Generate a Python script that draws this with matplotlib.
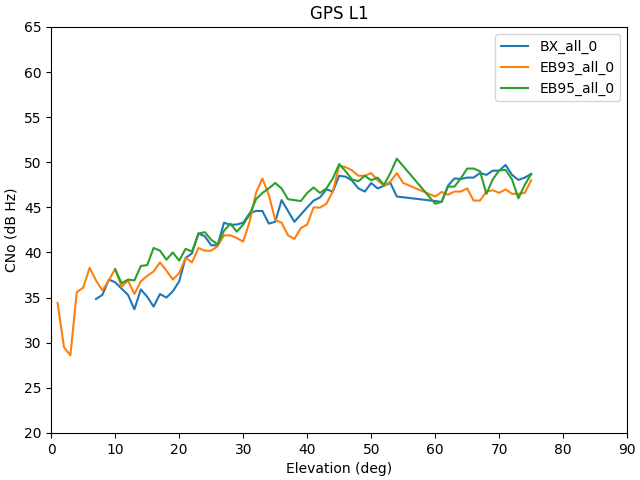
import matplotlib
matplotlib.use("Agg")
import matplotlib.pyplot as plt

# elevation (deg) and CNo (dB Hz) per receiver
bx_elev = list(range(7, 55)) + list(range(60, 76))
bx_cno = [34.85, 35.3, 37.0, 36.7, 36.0, 35.3, 33.7, 35.9, 35.1, 34.0,
          35.4, 35.0, 35.7, 36.8, 39.4, 39.9, 42.1, 41.8, 40.8, 40.8,
          43.3, 43.05, 43.1, 43.3, 44.35, 44.6, 44.6, 43.2, 43.4, 45.8,
          44.6, 43.4, 44.2, 45.0, 45.75, 46.1, 47.0, 46.75, 48.5, 48.4,
          47.97, 47.1, 46.75, 47.7, 47.1, 47.4, 47.7, 46.2,
          45.7, 45.6, 47.4, 48.2, 48.15, 48.3, 48.3, 48.8, 48.6, 49.07,
          49.07, 49.7, 48.6, 48.04, 48.3, 48.7]

eb93_elev = list(range(1, 56)) + list(range(60, 76))
eb93_cno = [34.4, 29.5, 28.6, 35.6, 36.1, 38.3, 36.9, 35.8, 36.9, 38.2,
            36.2, 36.9, 35.4, 36.8, 37.4, 37.9, 38.9, 38.0, 37.0, 37.7,
            39.4, 38.9, 40.5, 40.2, 40.2, 40.7, 41.9, 41.9, 41.6, 41.2,
            43.4, 46.6, 48.2, 46.4, 43.6, 43.3, 41.9, 41.5, 42.7, 43.1,
            45.0, 44.97, 45.4, 46.75, 49.6, 49.45, 49.1, 48.5, 48.5, 48.8,
            48.0, 47.4, 47.85, 48.8, 47.7,
            46.2, 46.7, 46.4, 46.75, 46.75, 47.1, 45.75, 45.75, 46.75, 46.9,
            46.6, 47.0, 46.5, 46.5, 46.6, 48.0]

eb95_elev = list(range(10, 55)) + list(range(60, 76))
eb95_cno = [38.1, 36.6, 37.0, 36.9, 38.5, 38.6, 40.5, 40.2, 39.2, 40.0,
            39.1, 40.4, 40.1, 42.1, 42.25, 41.4, 40.9, 42.4, 43.2, 42.3,
            43.1, 44.2, 45.9, 46.6, 47.1, 47.7, 47.1, 45.9, 45.8, 45.7,
            46.6, 47.2, 46.6, 47.1, 48.2, 49.8, 49.0, 48.1, 47.9, 48.5,
            48.0, 48.3, 47.5, 48.8, 50.4,
            45.4, 45.6, 47.3, 47.3, 48.2, 49.3, 49.3, 49.0, 46.5, 48.1,
            49.1, 49.15, 48.1, 46.0, 47.5, 48.7]

fig, ax = plt.subplots(figsize=(6.4, 4.8), dpi=100)

ax.plot(bx_elev, bx_cno, label="BX_all_0")
ax.plot(eb93_elev, eb93_cno, label="EB93_all_0")
ax.plot(eb95_elev, eb95_cno, label="EB95_all_0")

ax.set_xlim(0, 90)
ax.set_ylim(20, 65)
ax.set_title("GPS L1")
ax.set_xlabel("Elevation (deg)")
ax.set_ylabel("CNo (dB Hz)")
ax.legend(loc="upper right")

fig.subplots_adjust(left=0.080, right=0.980, top=0.944, bottom=0.098)
fig.savefig("out.png", dpi=100)
